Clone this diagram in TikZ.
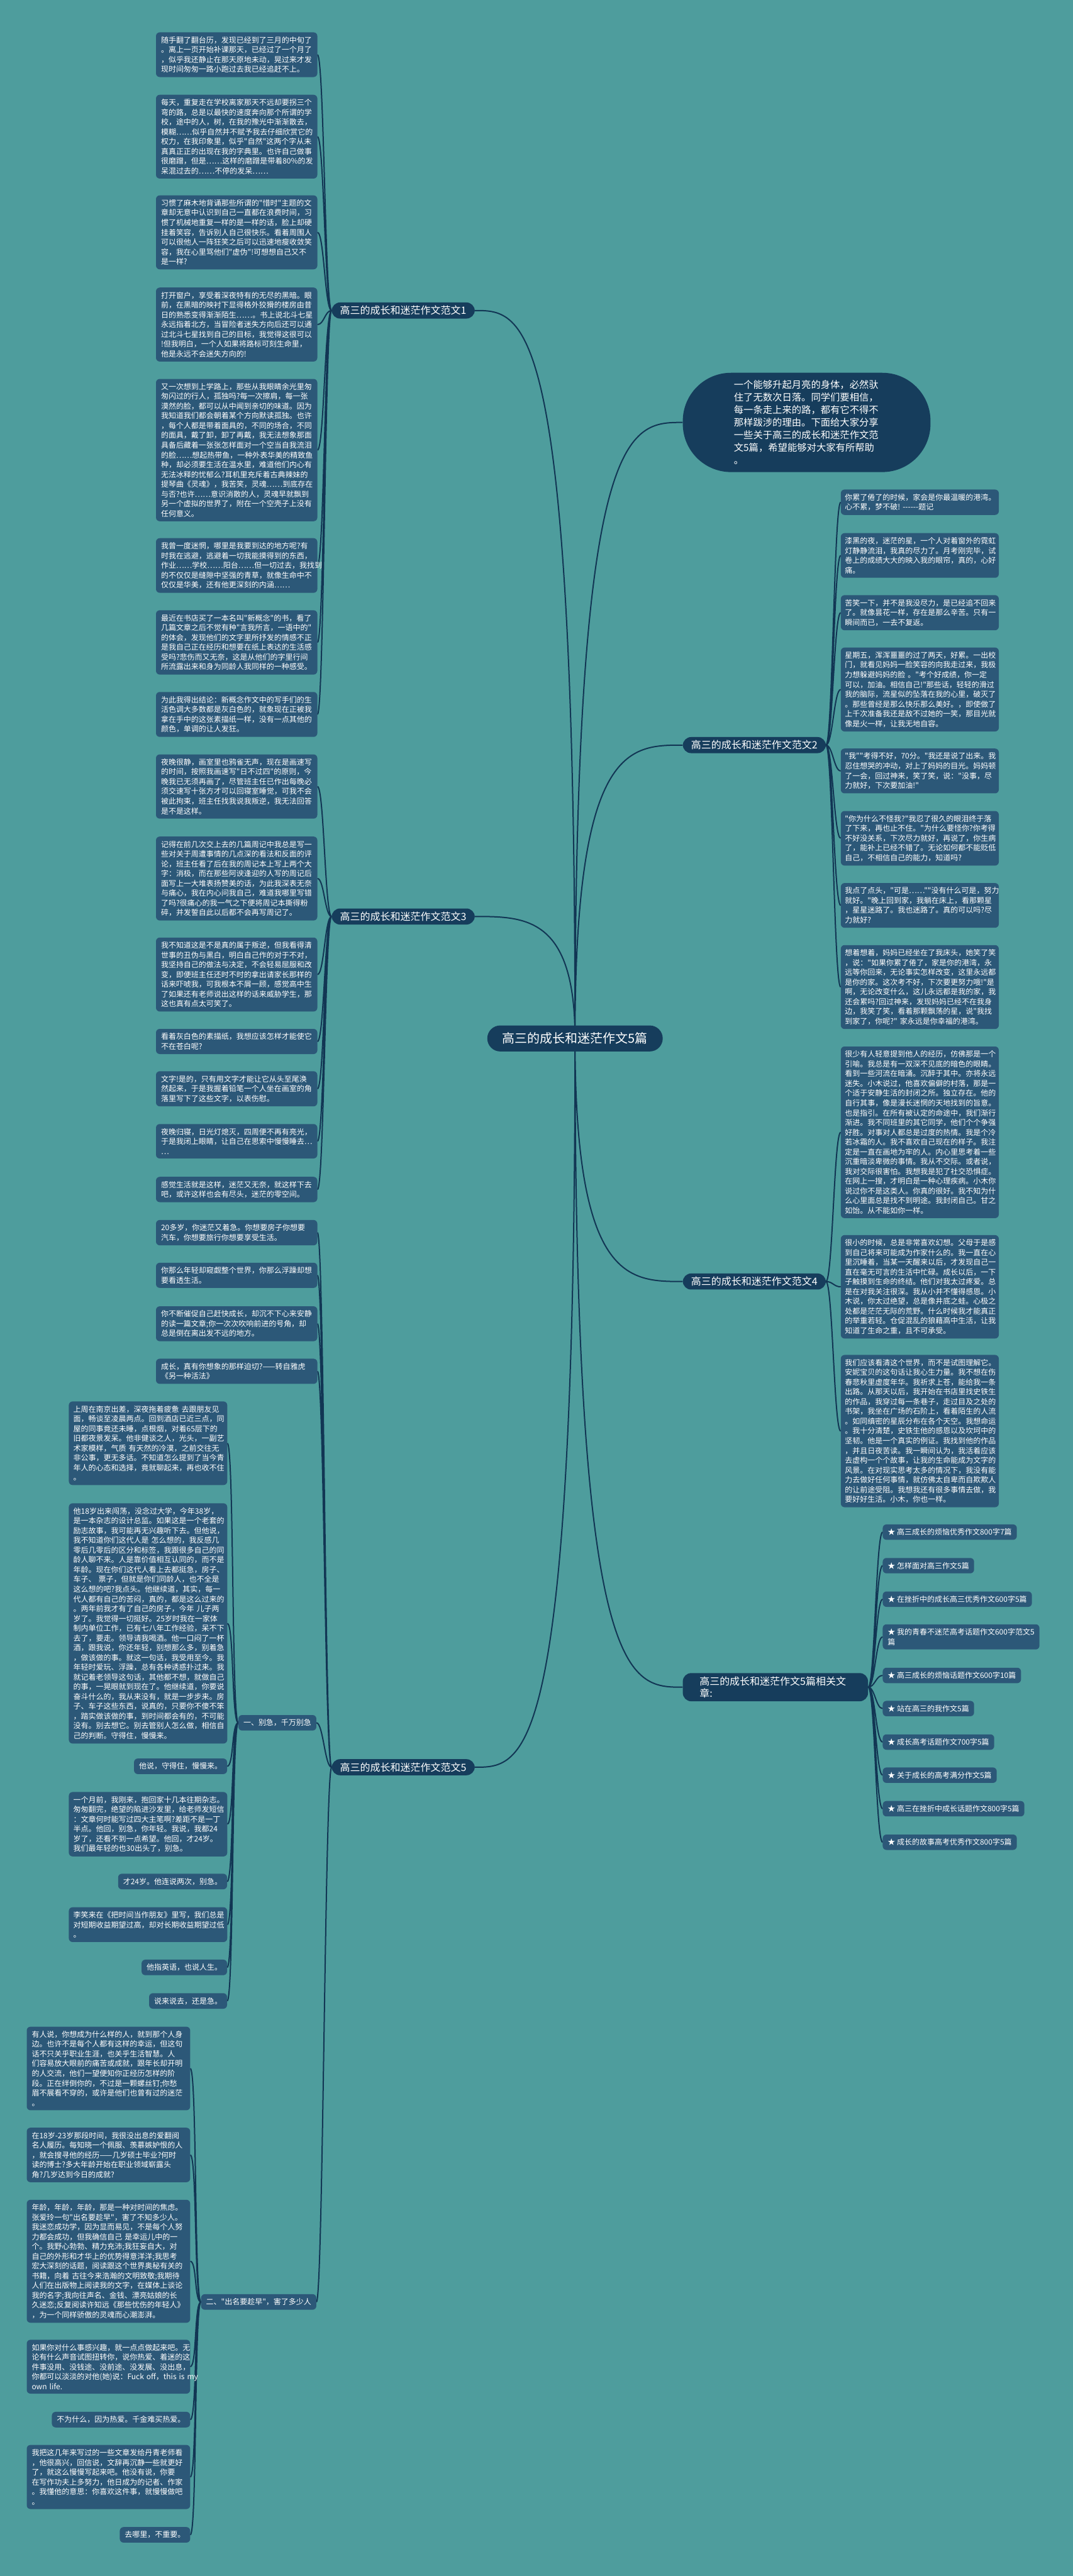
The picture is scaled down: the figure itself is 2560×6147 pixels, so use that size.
\documentclass[tikz,border=0pt]{standalone}
\usepackage{fontspec}
\newfontfamily\cjk{Noto Sans CJK SC}
\usetikzlibrary{calc,backgrounds}
\definecolor{bgteal}{RGB}{78,157,157}
\definecolor{boxblue}{RGB}{44,88,120}
\definecolor{navy}{RGB}{22,61,92}
\definecolor{wire}{RGB}{18,54,84}
\newcommand\fbody{\cjk\fontsize{18}{23.3}\selectfont}
\newcommand\flabel{\cjk\fontsize{24}{29}\selectfont}
\newcommand\fhub{\cjk\fontsize{30}{36}\selectfont}
\newcommand\fintro{\cjk\fontsize{23}{30}\selectfont}

\begin{document}
\begin{tikzpicture}[x=1pt,y=-1pt,line cap=round,line join=round,
  txt/.style={fill=boxblue,text=white,rounded corners=9pt,align=left,inner xsep=12pt,inner ysep=10pt,font=\fbody},
  wide/.style={txt,text width=361pt},
  low/.style={txt,text width=366pt},
  side/.style={txt,text width=357pt,inner xsep=10pt},
  lbl/.style={fill=navy,text=white,rounded corners=20pt,inner xsep=20pt,inner ysep=8pt,font=\flabel},
  hub/.style={fill=navy,text=white,rounded corners=31pt,inner xsep=36pt,minimum height=62pt,font=\fhub},
  link/.style={draw=wire,line width=3pt}]
\path[use as bounding box] (0,0) rectangle (2560,6147);
%
\node[hub] (cen) at (1372,2478) {高三的成长和迷茫作文5篇};
\node[lbl,anchor=east] (fw1) at (1133,741) {高三的成长和迷茫作文范文1};
\node[lbl,anchor=east] (fw3) at (1133,2187) {高三的成长和迷茫作文范文3};
\node[lbl,anchor=east] (fw5) at (1133,4217) {高三的成长和迷茫作文范文5};
\node[lbl,anchor=west] (fw2) at (1629,1778) {高三的成长和迷茫作文范文2};
\node[lbl,anchor=west] (fw4) at (1629,3058) {高三的成长和迷茫作文范文4};
\node[lbl,anchor=west,align=left,text width=362pt,inner xsep=40pt] (rel) at (1629,4026) {高三的成长和迷茫作文5篇相关文\\章:};
\node[fill=navy,text=white,rounded corners=115pt,align=left,text width=347pt,inner xsep=122pt,inner ysep=18pt,font=\fintro,anchor=west] (intro) at (1629,1008)
 {一个能够升起月亮的身体，必然驮\\住了无数次日落。同学们要相信，\\每一条走上来的路，都有它不得不\\那样跋涉的理由。下面给大家分享\\一些关于高三的成长和迷茫作文范\\文5篇，希望能够对大家有所帮助\\。};
%
% 范文1
\node[wide,anchor=north west] (a1) at (372,77) {随手翻了翻台历，发现已经到了三月的中旬了\\。离上一页开始补课那天，已经过了一个月了\\，似乎我还静止在那天原地未动，晃过来才发\\现时间匆匆一路小跑过去我已经追赶不上。};
\node[wide,anchor=north west] (a2) at (372,226) {每天，重复走在学校离家那天不远却要拐三个\\弯的路，总是以最快的速度奔向那个所谓的学\\校，途中的人，树，在我的豫光中渐渐散去，\\模糊……似乎自然并不赋予我去仔细欣赏它的\\权力，在我印象里，似乎"自然"这两个字从未\\真真正正的出现在我的字典里。也许自己做事\\很磨蹭，但是……这样的磨蹭是带着80\%的发\\呆混过去的……不停的发呆……};
\node[wide,anchor=north west] (a3) at (372,466) {习惯了麻木地背诵那些所谓的"惜时"主题的文\\章却无意中认识到自己一直都在浪费时间，习\\惯了机械地重复一样的是一样的话，脸上却硬\\挂着笑容，告诉别人自己很快乐。看着周围人\\可以很他人一阵狂笑之后可以迅速地瘦收敛笑\\容，我在心里骂他们"虚伪"!可想想自己又不\\是一样?};
\node[wide,anchor=north west] (a4) at (372,686) {打开窗户，享受着深夜特有的无尽的黑暗。眼\\前，在黑暗的映衬下显得格外狡猾的楼房由昔\\日的熟悉变得渐渐陌生……。书上说北斗七星\\永远指着北方，当冒险者迷失方向后还可以通\\过北斗七星找到自己的目标，我觉得这很可以\\!但我明白，一个人如果将路标可刻生命里，\\他是永远不会迷失方向的!};
\node[wide,anchor=north west] (a5) at (372,904) {又一次想到上学路上，那些从我眼睛余光里匆\\匆闪过的行人，孤独吗?每一次擦肩，每一张\\漠然的脸，都可以从中闻到亲切的味道。因为\\我知道我们都会朝着某个方向默读孤独。也许\\，每个人都是带着面具的，不同的场合，不同\\的面具，戴了卸，卸了再戴，我无法想象那面\\具备后藏着一张张怎样面对一个空当自我流泪\\的脸……想起热带鱼，一种外表华美的精致鱼\\种，却必须要生活在温水里，难道他们内心有\\无法冰释的忧郁么?耳机里充斥着古典辣妹的\\提琴曲《灵魂》，我苦笑，灵魂……到底存在\\与否?也许……意识消散的人，灵魂早就飘到\\另一个虚拟的世界了，附在一个空壳子上没有\\任何意义。};
\node[wide,anchor=north west] (a6) at (372,1284) {我曾一度迷惘，哪里是我要到达的地方呢?有\\时我在逃避，逃避着一切我能摸得到的东西，\\作业……学校……阳台……但一切过去，我找到\\的不仅仅是缝隙中坚强的青草，就像生命中不\\仅仅是华美，还有他更深刻的内涵……};
\node[wide,anchor=north west] (a7) at (372,1456) {最近在书店买了一本名叫"新概念"的书，看了\\几篇文章之后不觉有种"言我所言，一语中的"\\的体会，发现他们的文字里所抒发的情感不正\\是我自己正在经历和想要在纸上表达的生活感\\受吗?悲伤而又无奈，这是从他们的字里行间\\所流露出来和身为同龄人我同样的一种感受。};
\node[wide,anchor=north west] (a8) at (372,1651) {为此我得出结论：新概念作文中的写手们的生\\活色调大多数都是灰白色的，就象现在正被我\\拿在手中的这张素描纸一样，没有一点其他的\\颜色，单调的让人发狂。};
%
% 范文3
\node[wide,anchor=north west] (c1) at (372,1800) {夜晚很静，画室里也鸦雀无声，现在是画速写\\的时间，按照我画速写"日不过四"的原则，今\\晚我已无须再画了，尽管班主任已作出每晚必\\须交速写十张方才可以回寝室睡觉，可我不会\\被此拘束，班主任找我说我叛逆，我无法回答\\是不是这样。};
\node[wide,anchor=north west] (c2) at (372,1996) {记得在前几次交上去的几篇周记中我总是写一\\些对关于周遭事情的几点深的看法和反面的评\\论，班主任看了后在我的周记本上写上两个大\\字：消极，而在那些阿谀逢迎的人写的周记后\\面写上一大堆表扬赞美的话，为此我深表无奈\\与痛心，我在内心问我自己，难道我哪里写错\\了吗?很痛心的我一气之下便将周记本撕得粉\\碎，并发誓自此以后都不会再写周记了。};
\node[wide,anchor=north west] (c3) at (372,2237) {我不知道这是不是真的属于叛逆，但我看得清\\世事的丑伪与黑白，明白自己作的对于不对，\\我坚持自己的做法与决定，不会轻易屈服和改\\变，即便班主任还时不时的拿出请家长那样的\\话来吓唬我，可我根本不屑一顾，感觉高中生\\了如果还有老师说出这样的话来威胁学生，那\\这也真有点太可笑了。};
\node[wide,anchor=north west] (c4) at (372,2455) {看着灰白色的素描纸，我想应该怎样才能使它\\不在苍白呢?};
\node[wide,anchor=north west] (c5) at (372,2556) {文字!是的，只有用文字才能让它从头至尾涣\\然起来，于是我握着铅笔一个人坐在画室的角\\落里写下了这些文字，以表伤慰。};
\node[wide,anchor=north west] (c6) at (372,2682) {夜晚归寝，日光灯熄灭，四周便不再有亮光，\\于是我闭上眼睛，让自己在思索中慢慢睡去…\\…};
\node[wide,anchor=north west] (c7) at (372,2808) {感觉生活就是这样，迷茫又无奈，就这样下去\\吧，或许这样也会有尽头，迷茫的零空间。};
%
% 范文5
\node[wide,anchor=north west] (e1) at (372,2911) {20多岁，你迷茫又着急。你想要房子你想要\\汽车，你想要旅行你想要享受生活。};
\node[wide,anchor=north west] (e2) at (372,3013) {你那么年轻却窥觑整个世界，你那么浮躁却想\\要看透生活。};
\node[wide,anchor=north west] (e3) at (372,3117) {你不断催促自己赶快成长，却沉不下心来安静\\的读一篇文章;你一次次吹响前进的号角，却\\总是倒在离出发不远的地方。};
\node[wide,anchor=north west] (e4) at (372,3242) {成长，真有你想象的那样迫切?——转自雅虎\\《另一种活法》};
\node[txt,anchor=east] (s1) at (755,4111) {一、别急，千万别急};
\node[txt,anchor=east] (s2) at (755,5493) {二、"出名要趁早"，害了多少人};
%
\node[txt,text width=356pt,inner xsep=11pt,anchor=north west] (f1) at (164,3344) {上周在南京出差，深夜拖着疲惫 去跟朋友见\\面，畅谈至凌晨两点。回到酒店已近三点，同\\屋的同事竟还未睡，点根烟，对着65层下的\\旧都夜景发呆。他非健谈之人，光头，一副艺\\术家模样，气质 有天然的冷漠，之前交往无\\非公事，更无多话。不知道怎么提到了当今青\\年人的心态和选择，竟就聊起来，再也收不住\\。};
\node[txt,text width=356pt,inner xsep=11pt,anchor=north west] (f2) at (164,3587) {他18岁出来闯荡，没念过大学，今年38岁，\\是一本杂志的设计总监。如果这是一个老套的\\励志故事，我可能再无兴趣听下去。但他说，\\我不知道你们这代人是 怎么想的，我反感几\\零后几零后的区分和标签，我跟很多自己的同\\龄人聊不来。人是靠价值相互认同的，而不是\\年龄。现在你们这代人看上去都挺急，房子、\\车子、 票子，但就是你们同龄人，也不全是\\这么想的吧?我点头。他继续道，其实，每一\\代人都有自己的苦闷，真的，都是这么过来的\\。两年前我才有了自己的房子，今年 儿子两\\岁了。我觉得一切挺好。25岁时我在一家体\\制内单位工作，已有七八年工作经验，呆不下\\去了，要走。领导请我喝酒。他一口闷了一杯\\酒，跟我说，你还年轻，别想那么多，别着急\\，做该做的事。就这一句话，我受用至今。我\\年轻时爱玩、浮躁，总有各种诱惑扑过来。我\\就记着老领导这句话，其他都不想，就做自己\\的事，一晃眼就到现在了。他继续道，你要说\\奋斗什么的，我从来没有，就是一步步来。房\\子、车子这些东西，说真的，只要你不傻不笨\\，踏实做该做的事，到时间都会有的，不可能\\没有。别去想它。别去管别人怎么做，相信自\\己的判断。守得住，慢慢来。};
\node[txt,anchor=north east] (f3) at (542,4196) {他说，守得住，慢慢来。};
\node[txt,text width=356pt,inner xsep=11pt,anchor=north west] (f4) at (164,4276) {一个月前，我刚来，抱回家十几本往期杂志。\\匆匆翻完，绝望的陷进沙发里，给老师发短信\\：文章何时能写过四大主笔啊?差距不是一丁\\半点。他回，别急，你年轻。我说，我都24\\岁了，还看不到一点希望。他回，才24岁。\\我们最年轻的也30出头了，别急。};
\node[txt,anchor=north east] (f5) at (542,4471) {才24岁。他连说两次，别急。};
\node[txt,text width=356pt,inner xsep=11pt,anchor=north west] (f6) at (164,4551) {李笑来在《把时间当作朋友》里写，我们总是\\对短期收益期望过高，却对长期收益期望过低\\。};
\node[txt,anchor=north east] (f7) at (542,4676) {他指英语，也说人生。};
\node[txt,anchor=north east] (f8) at (542,4756) {说来说去，还是急。};
%
\node[low,anchor=north east] (g1) at (454,4836) {有人说，你想成为什么样的人，就到那个人身\\边。也许不是每个人都有这样的幸运，但这句\\话不只关乎职业生涯，也关乎生活智慧。人\\们容易放大眼前的痛苦或成就，跟年长却开明\\的人交流，他们一望便知你正经历怎样的阶\\段。正在绊倒你的，不过是一颗螺丝钉;你愁\\眉不展看不穿的，或许是他们也曾有过的迷茫\\。};
\node[low,anchor=north east] (g2) at (454,5077) {在18岁-23岁那段时间，我很没出息的爱翻阅\\名人履历。每知晓一个佩服、羡慕嫉妒恨的人\\，就会搜寻他的经历——几岁硕士毕业?何时\\读的博士?多大年龄开始在职业领域崭露头\\角?几岁达到今日的成就?};
\node[low,anchor=north east] (g3) at (454,5249) {年龄，年龄，年龄，那是一种对时间的焦虑。\\张爱玲一句"出名要趁早"，害了不知多少人。\\我迷恋成功学，因为显而易见，不是每个人努\\力都会成功，但我确信自己 是幸运儿中的一\\个。我野心勃勃、精力充沛;我狂妄自大，对\\自己的外形和才华上的优势得意洋洋;我思考\\宏大深刻的话题，阅读跟这个世界奥秘有关的\\书籍，向着 古往今来浩瀚的文明致敬;我期待\\人们在出版物上阅读我的文字，在媒体上谈论\\我的名字;我向往声名、金钱、漂亮姑娘的长\\久迷恋;反复阅读许知远《那些忧伤的年轻人》\\，为一个同样骄傲的灵魂而心潮澎湃。};
\node[low,anchor=north east] (g4) at (454,5583) {如果你对什么事感兴趣，就一点点做起来吧。无\\论有什么声音试图扭转你，说你热爱、着迷的这\\件事没用、没钱途、没前途、没发展、没出息，\\你都可以淡淡的对他(她)说：Fuck~off，this~is~my\\own~life.};
\node[txt,anchor=north east] (g5) at (454,5755) {不为什么，因为热爱。千金难买热爱。};
\node[low,anchor=north east] (g6) at (454,5834) {我把这几年来写过的一些文章发给丹青老师看\\，他很高兴，回信说，文辞再沉静一些就更好\\了，就这么慢慢写起来吧。他没有说，你要\\在写作功夫上多努力，他日成为的记者、作家\\。我懂他的意思：你喜欢这件事，就慢慢做吧\\。};
\node[txt,anchor=north east] (g7) at (454,6030) {去哪里，不重要。};
%
% 范文2
\node[side,anchor=north west] (b1) at (2006,1168) {你累了倦了的时候，家会是你最温暖的港湾。\\心不累，梦不破!~------题记};
\node[side,anchor=north west] (b2) at (2006,1272) {漆黑的夜，迷茫的星，一个人对着窗外的霓虹\\灯静静流泪，我真的尽力了。月考刚完毕，试\\卷上的成绩大大的映入我的眼帘，真的，心好\\痛。};
\node[side,anchor=north west] (b3) at (2006,1420) {苦笑一下，并不是我没尽力，是已经追不回来\\了。就像昙花一样，存在是那么辛苦。只有一\\瞬间而已，一去不复返。};
\node[side,anchor=north west] (b4) at (2006,1545) {星期五，浑浑噩噩的过了两天，好累。一出校\\门，就看见妈妈一脸笑容的向我走过来，我极\\力想躲避妈妈的脸~。"考个好成绩，你一定\\可以，加油。相信自己!"那些话，轻轻的滑过\\我的脑际，流星似的坠落在我的心里，破灭了\\。那些曾经是那么快乐那么美好。，即使做了\\上千次准备我还是敌不过她的一笑，那目光就\\像是火一样，让我无地自容。};
\node[side,anchor=north west] (b5) at (2006,1786) {"我""考得不好，70分。"我还是说了出来。我\\忍住想哭的冲动，对上了妈妈的目光。妈妈顿\\了一会，回过神来，笑了笑，说："没事，尽\\力就好，下次要加油!"};
\node[side,anchor=north west] (b6) at (2006,1935) {"你为什么不怪我?"我忍了很久的眼泪终于落\\了下来，再也止不住。"为什么要怪你?你考得\\不好没关系，下次尽力就好，再说了，你生病\\了，能补上已经不错了。无论如何都不能贬低\\自己，不相信自己的能力，知道吗?};
\node[side,anchor=north west] (b7) at (2006,2107) {我点了点头，"可是……""没有什么可是，努力\\就好。"晚上回到家，我躺在床上，看那颗星\\，星星迷路了。我也迷路了。真的可以吗?尽\\力就好?};
\node[side,anchor=north west] (b8) at (2006,2255) {想着想着，妈妈已经坐在了我床头，她笑了笑\\，说："如果你累了倦了，家是你的港湾，永\\远等你回来，无论事实怎样改变，这里永远都\\是你的家。这次考不好，下次要更努力哦!"是\\啊，无论改变什么，这儿永远都是我的家，我\\还会累吗?回过神来，发现妈妈已经不在我身\\边，我笑了笑，看着那颗飘荡的星，说"我找\\到家了，你呢?"~家永远是你幸福的港湾。};
%
% 范文4
\node[side,anchor=north west] (d1) at (2006,2497) {很少有人轻意提到他人的经历，仿佛那是一个\\引喻。我总是有一双深不见底的暗色的眼睛。\\看到一些河流在暗涌。沉醉于其中。亦将永远\\迷失。小木说过，他喜欢偏僻的村落，那是一\\个适于安静生活的封闭之所。独立存在。他的\\自行其事，像是漫长迷惘的天地找到的旨意。\\也是指引。在所有被认定的命途中，我们渐行\\渐进。我不同班里的其它同学，他们个个争强\\好胜。对事对人都总是过度的热情。我是个冷\\若冰霜的人。我不喜欢自己现在的样子。我注\\定是一直在画地为牢的人。内心里思考着一些\\沉重暗淡卑微的事情。我从不交际。或者说，\\我对交际很害怕。我想我是犯了社交恐惧症。\\在网上一搜，才明白是一种心理疾病。小木你\\说过你不是这类人。你真的很好。我不知为什\\么心里面总是找不到明途。我封闭自己。甘之\\如饴。从不能如你一样。};
\node[side,anchor=north west] (d2) at (2006,2947) {很小的时候，总是非常喜欢幻想。父母于是感\\到自己将来可能成为作家什么的。我一直在心\\里沉睡着，当某一天醒来以后，才发现自己一\\直在毫无可言的生活中忙碌。成长以后，一下\\子触摸到生命的终结。他们对我太过疼爱。总\\是在对我关注很深。我从小并不懂得感恩。小\\木说，你太过绝望，总是像井底之蛙。心极之\\处都是茫茫无际的荒野。什么时候我才能真正\\的举重若轻。仓促混乱的狼藉高中生活，让我\\知道了生命之重，且不可承受。};
\node[side,anchor=north west] (d3) at (2006,3233) {我们应该看清这个世界，而不是试图理解它。\\安妮宝贝的这句话让我心生力量。我不想在伤\\春悲秋里虚度年华。我祈求上苍，能给我一条\\出路。从那天以后，我开始在书店里找史铁生\\的作品，我穿过每一条巷子，走过目及之处的\\书架，我坐在广场的石阶上，看着陌生的人流\\。如同缜密的星辰分布在各个天空。我想命运\\。我十分清楚，史铁生他的感恩以及坎坷中的\\坚韧。他是一个真实的例证。我找到他的作品\\，并且日夜苦读。我一瞬间认为，我活着应该\\去虚构一个个故事，让我的生命能成为文字的\\风景。在对现实思考太多的情况下，我没有能\\力去做好任何事情，就仿佛太自卑而自欺欺人\\的让前途受阻。我想我还有很多事情去做，我\\要好好生活。小木，你也一样。};
%
% 相关文章
\node[txt,anchor=west] (r1) at (2106,3656) {★~高三成长的烦恼优秀作文800字7篇};
\node[txt,anchor=west] (r2) at (2106,3736) {★~怎样面对高三作文5篇};
\node[txt,anchor=west] (r3) at (2106,3816) {★~在挫折中的成长高三优秀作文600字5篇};
\node[txt,anchor=west] (r4) at (2106,3906) {★~我的青春不迷茫高考话题作文600字范文5\\篇};
\node[txt,anchor=west] (r5) at (2106,3998) {★~高三成长的烦恼话题作文600字10篇};
\node[txt,anchor=west] (r6) at (2106,4077) {★~站在高三的我作文5篇};
\node[txt,anchor=west] (r7) at (2106,4157) {★~成长高考话题作文700字5篇};
\node[txt,anchor=west] (r8) at (2106,4236) {★~关于成长的高考满分作文5篇};
\node[txt,anchor=west] (r9) at (2106,4316) {★~高三在挫折中成长话题作文800字5篇};
\node[txt,anchor=west] (r10) at (2106,4396) {★~成长的故事高考优秀作文800字5篇};
%
\begin{scope}[on background layer]
\fill[bgteal] (0,0) rectangle (2560,6147);
% hub to branches
\draw[link] (cen.center) .. controls (cen.center |- fw1.east) and ($(cen.center |- fw1.east)!.5!(fw1.east)$) .. (fw1.east)
 (cen.center) .. controls (cen.center |- fw3.east) and ($(cen.center |- fw3.east)!.5!(fw3.east)$) .. (fw3.east)
 (cen.center) .. controls (cen.center |- fw5.east) and ($(cen.center |- fw5.east)!.5!(fw5.east)$) .. (fw5.east)
 (cen.center) .. controls (cen.center |- intro.west) and ($(cen.center |- intro.west)!.5!(intro.west)$) .. (intro.west)
 (cen.center) .. controls (cen.center |- fw2.west) and ($(cen.center |- fw2.west)!.5!(fw2.west)$) .. (fw2.west)
 (cen.center) .. controls (cen.center |- fw4.west) and ($(cen.center |- fw4.west)!.5!(fw4.west)$) .. (fw4.west)
 (cen.center) .. controls (cen.center |- rel.west) and ($(cen.center |- rel.west)!.5!(rel.west)$) .. (rel.west);
% left leaves
\draw[link] (fw1.west) .. controls +(-16,0) and +(16,0) .. (a1.east)
 (fw1.west) .. controls +(-16,0) and +(16,0) .. (a2.east)
 (fw1.west) .. controls +(-16,0) and +(16,0) .. (a3.east)
 (fw1.west) .. controls +(-16,0) and +(16,0) .. (a4.east)
 (fw1.west) .. controls +(-16,0) and +(16,0) .. (a5.east)
 (fw1.west) .. controls +(-16,0) and +(16,0) .. (a6.east)
 (fw1.west) .. controls +(-16,0) and +(16,0) .. (a7.east)
 (fw1.west) .. controls +(-16,0) and +(16,0) .. (a8.east);
\draw[link] (fw3.west) .. controls +(-16,0) and +(16,0) .. (c1.east)
 (fw3.west) .. controls +(-16,0) and +(16,0) .. (c2.east)
 (fw3.west) .. controls +(-16,0) and +(16,0) .. (c3.east)
 (fw3.west) .. controls +(-16,0) and +(16,0) .. (c4.east)
 (fw3.west) .. controls +(-16,0) and +(16,0) .. (c5.east)
 (fw3.west) .. controls +(-16,0) and +(16,0) .. (c6.east)
 (fw3.west) .. controls +(-16,0) and +(16,0) .. (c7.east);
\draw[link] (fw5.west) .. controls +(-16,0) and +(16,0) .. (e1.east)
 (fw5.west) .. controls +(-16,0) and +(16,0) .. (e2.east)
 (fw5.west) .. controls +(-16,0) and +(16,0) .. (e3.east)
 (fw5.west) .. controls +(-16,0) and +(16,0) .. (e4.east)
 (fw5.west) .. controls +(-16,0) and +(16,0) .. (s1.east)
 (fw5.west) .. controls +(-16,0) and +(16,0) .. (s2.east);
\draw[link] (s1.west) .. controls +(-16,0) and +(16,0) .. (f1.east)
 (s1.west) .. controls +(-16,0) and +(16,0) .. (f2.east)
 (s1.west) .. controls +(-16,0) and +(16,0) .. (f3.east)
 (s1.west) .. controls +(-16,0) and +(16,0) .. (f4.east)
 (s1.west) .. controls +(-16,0) and +(16,0) .. (f5.east)
 (s1.west) .. controls +(-16,0) and +(16,0) .. (f6.east)
 (s1.west) .. controls +(-16,0) and +(16,0) .. (f7.east)
 (s1.west) .. controls +(-16,0) and +(16,0) .. (f8.east);
\draw[link] (s2.west) .. controls +(-16,0) and +(16,0) .. (g1.east)
 (s2.west) .. controls +(-16,0) and +(16,0) .. (g2.east)
 (s2.west) .. controls +(-16,0) and +(16,0) .. (g3.east)
 (s2.west) .. controls +(-16,0) and +(16,0) .. (g4.east)
 (s2.west) .. controls +(-16,0) and +(16,0) .. (g5.east)
 (s2.west) .. controls +(-16,0) and +(16,0) .. (g6.east)
 (s2.west) .. controls +(-16,0) and +(16,0) .. (g7.east);
% right leaves
\draw[link] (fw2.east) .. controls +(16,0) and +(-16,0) .. (b1.west)
 (fw2.east) .. controls +(16,0) and +(-16,0) .. (b2.west)
 (fw2.east) .. controls +(16,0) and +(-16,0) .. (b3.west)
 (fw2.east) .. controls +(16,0) and +(-16,0) .. (b4.west)
 (fw2.east) .. controls +(16,0) and +(-16,0) .. (b5.west)
 (fw2.east) .. controls +(16,0) and +(-16,0) .. (b6.west)
 (fw2.east) .. controls +(16,0) and +(-16,0) .. (b7.west)
 (fw2.east) .. controls +(16,0) and +(-16,0) .. (b8.west);
\draw[link] (fw4.east) .. controls +(16,0) and +(-16,0) .. (d1.west)
 (fw4.east) .. controls +(16,0) and +(-16,0) .. (d2.west)
 (fw4.east) .. controls +(16,0) and +(-16,0) .. (d3.west);
\draw[link] (rel.east) .. controls +(16,0) and +(-16,0) .. (r1.west)
 (rel.east) .. controls +(16,0) and +(-16,0) .. (r2.west)
 (rel.east) .. controls +(16,0) and +(-16,0) .. (r3.west)
 (rel.east) .. controls +(16,0) and +(-16,0) .. (r4.west)
 (rel.east) .. controls +(16,0) and +(-16,0) .. (r5.west)
 (rel.east) .. controls +(16,0) and +(-16,0) .. (r6.west)
 (rel.east) .. controls +(16,0) and +(-16,0) .. (r7.west)
 (rel.east) .. controls +(16,0) and +(-16,0) .. (r8.west)
 (rel.east) .. controls +(16,0) and +(-16,0) .. (r9.west)
 (rel.east) .. controls +(16,0) and +(-16,0) .. (r10.west);
\end{scope}
\end{tikzpicture}
\end{document}
